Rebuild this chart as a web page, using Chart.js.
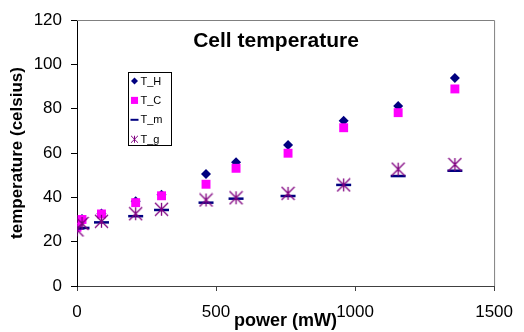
<!DOCTYPE html>
<html>
<head>
<meta charset="utf-8">
<script src="https://cdn.jsdelivr.net/npm/chart.js@4/dist/chart.umd.min.js"></script>
<style>
  html, body { margin: 0; padding: 0; background: #fff; }
  canvas { display: block; }
</style>
</head>
<body>
<canvas id="myChart" width="524" height="332"></canvas>
<script>
// datos
const potencia = [0, 18, 88, 211, 304, 464, 572, 759, 959, 1155, 1359];
const tH = [26, 30.2, 32.7, 38.2, 41.2, 50.5, 55.8, 63.6, 74.6, 81.2, 93.8];
const tC = [26.5, 30, 32.5, 37.6, 40.7, 45.9, 53.1, 59.9, 71.4, 78.2, 88.9];
const tM = [26, 26.2, 28.7, 31.5, 34.3, 37.6, 39.4, 40.6, 45.6, 49.6, 52.0];
const tG = [25.3, 28.2, 29.2, 32.6, 34.6, 38.8, 39.8, 41.8, 45.6, 52.7, 54.8];
const nombres = ["T_H", "T_C", "T_m", "T_g"];
const titulo = "Cell temperature";
const tituloX = "power (mW)";
const tituloY = "temperature (celsius)";

const fuente = '"Liberation Sans", Arial, sans-serif';

function estrella(size, color, lw) {
    let c = document.createElement("canvas");
    c.width = size;
    c.height = size;
    let g = c.getContext("2d");
    let m = size / 2, r = size / 2 - 1;
    g.strokeStyle = color;
    g.lineWidth = lw;
    g.beginPath();
    g.moveTo(m - r, m - r); g.lineTo(m + r, m + r);
    g.moveTo(m + r, m - r); g.lineTo(m - r, m + r);
    g.moveTo(m, m - r); g.lineTo(m, m + r);
    g.stroke();
    return c;
}

function puntos(valores) {
    return valores.map((v, i) => ({ x: potencia[i], y: v }));
}

const estiloLeyenda = [
    { pointStyle: "rectRot", radius: 3.5, borderWidth: 0 },
    { pointStyle: "rect", radius: 5, borderWidth: 0 },
    { pointStyle: "line", radius: 4, borderWidth: 2 },
    { pointStyle: estrella(9, "#800080", 1), radius: 4.5, borderWidth: 0 }
];

const marco = {
    id: "marco",
    afterDraw(chart) {
        let a = chart.chartArea, ctx = chart.ctx;
        ctx.save();
        ctx.strokeStyle = "#808080";
        ctx.lineWidth = 1;
        ctx.beginPath();
        ctx.moveTo(a.left, a.top + 0.5);
        ctx.lineTo(a.right + 0.5, a.top + 0.5);
        ctx.lineTo(a.right + 0.5, a.bottom);
        ctx.stroke();
        ctx.restore();
    }
};

const rotulos = {
    id: "rotulos",
    afterDraw(chart) {
        let ctx = chart.ctx;
        ctx.save();
        ctx.fillStyle = "#000";
        ctx.font = "bold 21px " + fuente;
        ctx.textAlign = "center";
        ctx.textBaseline = "middle";
        ctx.fillText(titulo, 276, 41);

        // leyenda
        ctx.fillStyle = "#fff";
        ctx.fillRect(128.5, 72.5, 43, 73);
        ctx.strokeStyle = "#000";
        ctx.lineWidth = 1;
        ctx.strokeRect(128.5, 72.5, 43, 73);
        ctx.font = "11px " + fuente;
        ctx.textAlign = "left";
        chart.data.datasets.forEach((ds, i) => {
            let y = 81 + i * 19.4;
            ctx.fillStyle = ds.backgroundColor;
            ctx.strokeStyle = ds.borderColor;
            ctx.lineWidth = estiloLeyenda[i].borderWidth;
            Chart.helpers.drawPoint(ctx, estiloLeyenda[i], 134.5, y);
            ctx.fillStyle = "#000";
            ctx.fillText(ds.label, 140.5, y + 0.5);
        });
        ctx.restore();
    }
};

new Chart("myChart", {
    type: "scatter",
    data: {
        datasets: [
            {
                label: nombres[0], data: puntos(tH), order: 4,
                backgroundColor: "#000080", borderColor: "#000080",
                pointStyle: "rectRot", pointRadius: 5, borderWidth: 0
            },
            {
                label: nombres[1], data: puntos(tC), order: 3,
                backgroundColor: "#FF00FF", borderColor: "#FF00FF",
                pointStyle: "rect", pointRadius: 6.3, borderWidth: 0
            },
            {
                label: nombres[2], data: puntos(tM), order: 2,
                backgroundColor: "#000080", borderColor: "#000080",
                pointStyle: "line", pointRadius: 7.5, borderWidth: 2.5
            },
            {
                label: nombres[3], data: puntos(tG), order: 1,
                backgroundColor: "#800080", borderColor: "#800080",
                pointStyle: estrella(15, "#800080", 1.3), pointRadius: 7.5, borderWidth: 0
            }
        ]
    },
    options: {
        responsive: false,
        animation: false,
        devicePixelRatio: 1,
        layout: { padding: { left: 0, right: 23, top: 20, bottom: 0 } },
        plugins: {
            legend: { display: false },
            title: { display: false },
            tooltip: { enabled: false }
        },
        scales: {
            x: {
                type: "linear",
                min: 0, max: 1500,
                afterFit: (s) => { s.height = 46; },
                ticks: { stepSize: 500, color: "#000", padding: 11, maxRotation: 0,
                         callback: (v) => String(v),
                         font: { family: fuente, size: 17 } },
                grid: { display: true, drawOnChartArea: false, drawTicks: true, tickLength: 5, color: "#404040" },
                border: { display: true, color: "#404040", width: 1 },
                title: { display: true, text: tituloX, color: "#000",
                         padding: { top: 0, bottom: 0 },
                         font: { family: fuente, size: 18, weight: "bold" } }
            },
            y: {
                min: 0, max: 120,
                afterFit: (s) => { s.width = 77; },
                ticks: { stepSize: 20, color: "#000", padding: 9,
                         callback: (v) => String(v),
                         font: { family: fuente, size: 17 } },
                grid: { display: true, drawOnChartArea: false, drawTicks: true, tickLength: 6, color: "#000" },
                border: { display: true, color: "#000", width: 1 },
                title: { display: true, text: tituloY, color: "#000",
                         padding: { top: 7, bottom: 0 },
                         font: { family: fuente, size: 17, weight: "bold" } }
            }
        }
    },
    plugins: [marco, rotulos]
});
</script>
</body>
</html>
